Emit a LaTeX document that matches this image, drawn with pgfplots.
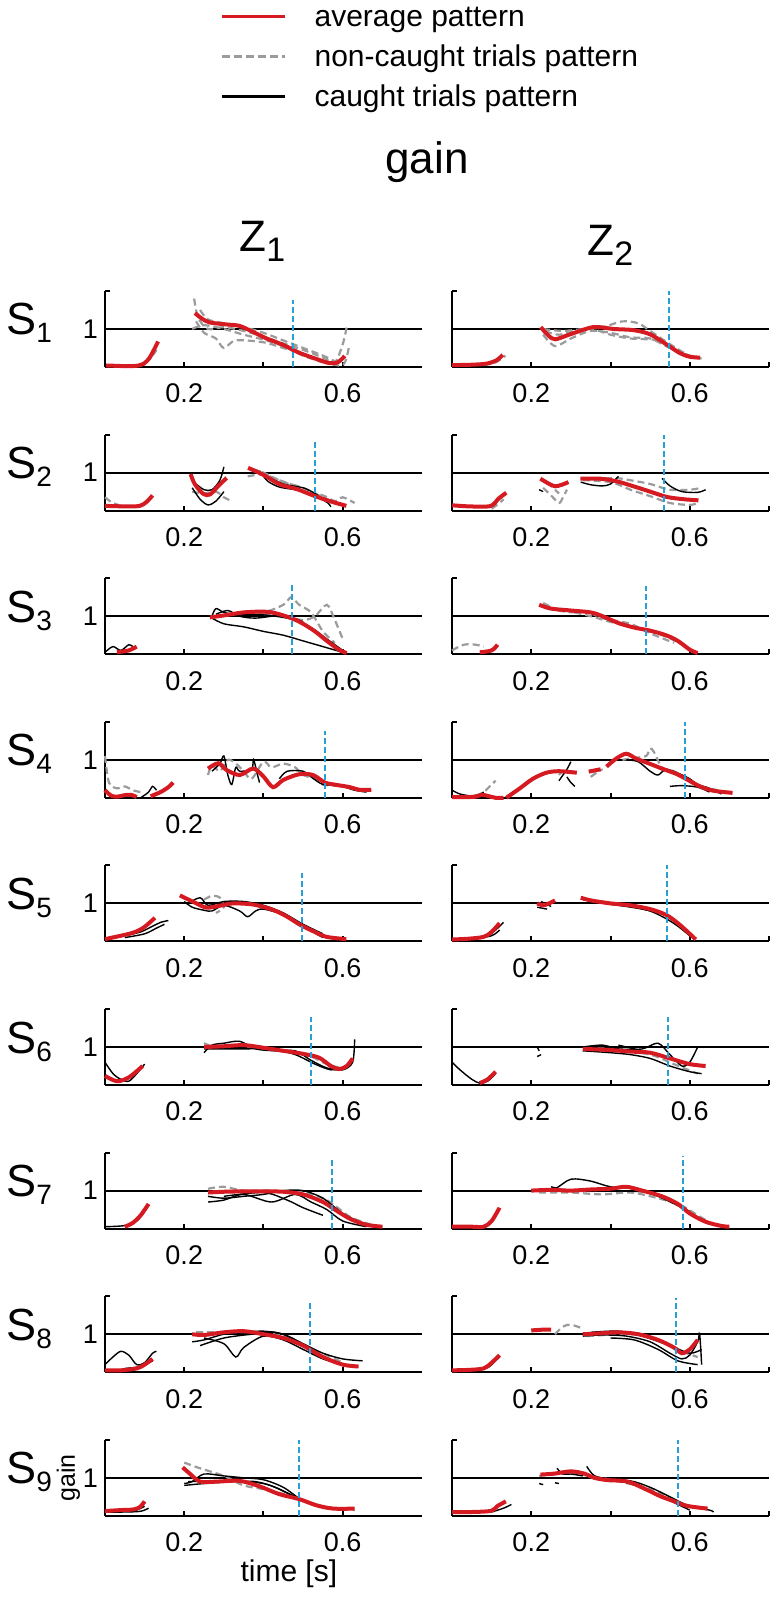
\documentclass[border=0pt]{standalone}
\usepackage{pgfplots}
\pgfplotsset{compat=1.18}
\usepackage{fontspec}
\setmainfont{Liberation Sans}
\definecolor{myred}{RGB}{214,26,33}
\definecolor{mygray}{RGB}{155,155,155}
\definecolor{myblue}{RGB}{40,160,215}
\pgfplotsset{
 panel/.style={scale only axis, width=158.5pt, height=38pt, xmin=0,xmax=0.8,ymin=0,ymax=2,
   axis lines=left, axis line style={line width=1pt,-}, tick style={line width=1pt,black},
   major tick length=2.5pt, tick align=inside, xtick={0.2,0.4,0.6}, xticklabels={0.2,,0.6},
   ytick={0,1,2}, yticklabels={,1,}, tick label style={font=\fontsize{13.5}{13.5}\selectfont},
   xticklabel style={yshift=-5pt}, /pgf/number format/assume math mode=true, clip=false, anchor=south west},
 rpanel/.style={panel, yticklabels={}, xtick={0.2,0.4,0.6,0.8}, xticklabels={0.2,,0.6,}},
 avg/.style={color=myred, line width=2pt, smooth, tension=0.5},
 nc/.style={color=mygray, line width=1.1pt, dash pattern=on 3.5pt off 2pt, smooth, tension=0.5},
 ct/.style={black, line width=0.7pt, smooth, tension=0.5},
 one/.style={black, line width=1pt},
 vt/.style={color=myblue, line width=1pt, dash pattern=on 3pt off 1.5pt},
}
\newcommand{\slab}[2]{\node[anchor=base west, inner sep=0pt] at (3pt,#1) {\fontsize{22.5}{22.5}\selectfont S\raisebox{-4pt}{\fontsize{14}{14}\selectfont #2}};}
\begin{document}
\begin{tikzpicture}
\path[use as bounding box] (0,0) rectangle (388pt,-799.5pt);
\node[anchor=base west, inner sep=0pt, font=\fontsize{22}{22}\selectfont] at (192.5pt,-87pt) {gain};
\node[anchor=base west, inner sep=0pt] at (119.5pt,-126pt) {\fontsize{22}{22}\selectfont Z\raisebox{-5pt}{\fontsize{17}{17}\selectfont 1}};
\node[anchor=base west, inner sep=0pt] at (293.5pt,-128pt) {\fontsize{22}{22}\selectfont Z\raisebox{-5pt}{\fontsize{17}{17}\selectfont 2}};
\slab{-167.5pt}{1}
\slab{-239.3pt}{2}
\slab{-311.1pt}{3}
\slab{-382.9pt}{4}
\slab{-454.7pt}{5}
\slab{-526.5pt}{6}
\slab{-598.3pt}{7}
\slab{-670.1pt}{8}
\slab{-741.9pt}{9}

% ---------- S1 ----------
\begin{axis}[panel, at={(52.5pt,-183.5pt)},
  legend style={at={(axis description cs:0.3628,4.8026)}, anchor=north west, draw=none, fill=none, inner sep=0pt,
    font=\fontsize{15}{15}\selectfont, row sep=3.5pt,
    nodes={inner sep=1pt, text height=11pt, text depth=3.5pt, anchor=base west},
    /tikz/every odd column/.append style={column sep=13pt}},
  legend cell align=left,
  legend image code/.code={\draw[#1] (0pt,5pt) -- (31.5pt,5pt);}]
\addlegendimage{color=myred, line width=1.6pt}
\addlegendentry{average pattern}
\addlegendimage{color=mygray, line width=1.6pt, dash pattern=on 4pt off 2pt}
\addlegendentry{non-caught trials pattern}
\addlegendimage{black, line width=1.6pt}
\addlegendentry{caught trials pattern}
\addplot[one] coordinates {(0,1)(0.8,1)};
\addplot[nc] coordinates {(0.075,0.02)(0.1,0.1)(0.12,0.3)(0.13,0.45)};
\addplot[nc] coordinates {(0.225,1.8)(0.235,1.3)(0.26,1.0)(0.3,1.05)(0.35,0.95)(0.4,0.8)(0.45,0.62)(0.5,0.45)(0.55,0.25)(0.58,0.12)(0.6,0.6)(0.61,1.05)};
\addplot[nc] coordinates {(0.23,1.2)(0.25,0.9)(0.28,0.75)(0.3,0.5)(0.33,0.7)(0.4,0.65)(0.45,0.5)(0.5,0.35)(0.55,0.15)(0.6,0.05)(0.615,0.5)};
\addplot[nc] coordinates {(0.24,1.5)(0.26,1.25)(0.3,1.15)(0.35,1.05)(0.4,0.9)(0.45,0.7)(0.5,0.5)(0.55,0.3)(0.58,0.15)};
\addplot[nc] coordinates {(0.22,1.0)(0.25,1.1)(0.3,1.0)(0.35,0.85)(0.4,0.72)(0.45,0.55)(0.5,0.3)(0.55,0.12)};
\addplot[avg] coordinates {(0.003,0.04)(0.03,0.03)(0.063,0.02)(0.085,0.04)(0.097,0.08)(0.113,0.25)(0.134,0.67)};
\addplot[avg] coordinates {(0.227,1.42)(0.245,1.27)(0.265,1.17)(0.307,1.12)(0.34,1.08)(0.374,0.92)(0.408,0.75)(0.45,0.58)(0.49,0.375)(0.534,0.21)(0.567,0.1)(0.588,0.125)(0.605,0.29)};
\addplot[vt] coordinates {(0.475,0)(0.475,1.75)};
\end{axis}
\begin{axis}[rpanel, at={(226pt,-183.5pt)}]
\addplot[one] coordinates {(0,1)(0.8,1)};
\addplot[nc] coordinates {(0.08,0.05)(0.11,0.12)(0.135,0.3)};
\addplot[nc] coordinates {(0.23,0.85)(0.26,0.55)(0.3,0.75)(0.35,0.95)(0.4,0.9)(0.45,0.78)(0.5,0.75)(0.55,0.5)(0.6,0.3)(0.63,0.22)};
\addplot[nc] coordinates {(0.235,0.95)(0.27,0.85)(0.33,1.0)(0.38,1.05)(0.43,1.2)(0.47,1.15)(0.5,0.95)(0.55,0.6)(0.6,0.28)};
\addplot[nc] coordinates {(0.23,1.0)(0.28,0.95)(0.35,1.0)(0.4,0.85)(0.45,0.75)(0.52,0.7)(0.56,0.45)(0.6,0.25)};
\addplot[avg] coordinates {(0,0.05)(0.05,0.06)(0.088,0.09)(0.113,0.18)(0.128,0.32)};
\addplot[avg] coordinates {(0.224,1.05)(0.244,0.82)(0.261,0.73)(0.298,0.86)(0.357,1.05)(0.408,1.0)(0.458,0.97)(0.5,0.86)(0.542,0.59)(0.576,0.36)(0.6,0.27)(0.626,0.245)};
\addplot[vt] coordinates {(0.548,0)(0.548,2)};
\end{axis}

% ---------- S2 ----------
\begin{axis}[panel, at={(52.5pt,-255.3pt)}]
\addplot[one] coordinates {(0,1)(0.8,1)};
\addplot[nc] coordinates {(0.0,0.35)(0.02,0.2)(0.05,0.1)};
\addplot[nc] coordinates {(0.22,0.5)(0.25,0.45)(0.28,0.5)(0.3,0.35)(0.32,0.25)};
\addplot[nc] coordinates {(0.36,0.9)(0.4,0.95)(0.44,0.8)(0.48,0.65)(0.5,0.5)(0.55,0.4)(0.58,0.25)(0.6,0.35)(0.63,0.2)};
\addplot[nc] coordinates {(0.37,1.1)(0.4,1.0)(0.45,0.75)(0.5,0.6)(0.56,0.3)(0.6,0.15)};
\addplot[ct] coordinates {(0.22,0.6)(0.24,0.3)(0.26,0.15)(0.28,0.25)(0.3,0.5)};
\addplot[ct] coordinates {(0.23,0.7)(0.25,0.55)(0.27,0.55)(0.29,0.8)(0.3,1.15)};
\addplot[ct] coordinates {(0.39,1.05)(0.41,0.78)(0.44,0.62)(0.48,0.55)(0.52,0.45)(0.56,0.22)(0.57,0.1)};
\addplot[ct] coordinates {(0.4,0.95)(0.45,0.7)(0.5,0.6)(0.53,0.45)(0.55,0.3)};
\addplot[avg] coordinates {(0,0.125)(0.055,0.11)(0.088,0.125)(0.105,0.23)(0.12,0.4)};
\addplot[avg] coordinates {(0.216,0.96)(0.227,0.69)(0.248,0.44)(0.265,0.425)(0.286,0.65)(0.307,0.86)};
\addplot[avg] coordinates {(0.361,1.125)(0.4,0.94)(0.441,0.69)(0.483,0.57)(0.525,0.4)(0.567,0.25)(0.609,0.125)};
\addplot[vt] coordinates {(0.529,0)(0.529,1.85)};
\end{axis}
\begin{axis}[rpanel, at={(226pt,-255.3pt)}]
\addplot[one] coordinates {(0,1)(0.8,1)};
\addplot[nc] coordinates {(0.1,0.05)(0.12,0.2)(0.13,0.3)};
\addplot[nc] coordinates {(0.23,0.6)(0.25,0.4)(0.27,0.2)(0.28,0.35)(0.29,0.55)};
\addplot[nc] coordinates {(0.24,0.75)(0.26,0.55)(0.27,0.45)};
\addplot[nc] coordinates {(0.33,0.85)(0.38,0.85)(0.42,0.85)(0.46,0.78)(0.5,0.7)(0.55,0.55)(0.6,0.55)(0.63,0.6)};
\addplot[nc] coordinates {(0.33,0.8)(0.4,0.75)(0.45,0.55)(0.5,0.38)(0.55,0.2)(0.6,0.15)(0.62,0.2)};
\addplot[ct] coordinates {(0.22,0.55)(0.23,0.5)};
\addplot[ct] coordinates {(0.325,0.75)(0.35,0.68)(0.38,0.65)(0.4,0.7)(0.42,0.9)};
\addplot[ct] coordinates {(0.53,0.85)(0.55,0.65)(0.58,0.5)(0.62,0.48)(0.64,0.55)};
\addplot[avg] coordinates {(0,0.14)(0.046,0.11)(0.097,0.12)(0.118,0.32)(0.137,0.47)};
\addplot[avg] coordinates {(0.223,0.84)(0.244,0.71)(0.26,0.64)(0.277,0.68)(0.294,0.75)};
\addplot[avg] coordinates {(0.324,0.84)(0.374,0.84)(0.416,0.77)(0.458,0.64)(0.5,0.5)(0.542,0.36)(0.584,0.3)(0.622,0.27)};
\addplot[vt] coordinates {(0.534,0)(0.534,2)};
\end{axis}

% ---------- S3 ----------
\begin{axis}[panel, at={(52.5pt,-327.1pt)}]
\addplot[one] coordinates {(0,1)(0.8,1)};
\addplot[ct] coordinates {(0.0,0.05)(0.02,0.2)(0.04,0.1)(0.06,0.25)(0.07,0.2)};
\addplot[nc] coordinates {(0.33,1.05)(0.4,1.1)(0.45,1.3)(0.47,1.5)(0.49,1.3)(0.52,1.1)(0.55,0.6)(0.58,0.3)};
\addplot[nc] coordinates {(0.4,1.05)(0.45,1.0)(0.5,0.9)(0.53,1.0)(0.56,1.3)(0.58,0.9)(0.6,0.4)};
\addplot[ct] coordinates {(0.27,1.0)(0.28,1.2)(0.3,1.1)(0.33,1.05)(0.38,1.05)(0.43,1.0)(0.48,0.9)(0.52,0.7)(0.56,0.4)(0.6,0.1)};
\addplot[ct] coordinates {(0.27,0.95)(0.3,0.8)(0.35,0.72)(0.4,0.6)(0.45,0.5)(0.5,0.35)(0.55,0.2)(0.6,0.05)};
\addplot[ct] coordinates {(0.28,1.05)(0.31,1.15)(0.34,1.0)(0.38,0.95)(0.45,1.02)(0.5,0.85)};
\addplot[avg] coordinates {(0.03,0.05)(0.06,0.1)(0.08,0.2)};
\addplot[avg] coordinates {(0.265,0.97)(0.3,1.02)(0.35,1.1)(0.4,1.12)(0.43,1.08)(0.47,0.95)(0.5,0.8)(0.53,0.6)(0.56,0.35)(0.59,0.12)(0.61,0.03)};
\addplot[vt] coordinates {(0.473,0)(0.473,1.85)};
\end{axis}
\begin{axis}[rpanel, at={(226pt,-327.1pt)}]
\addplot[one] coordinates {(0,1)(0.8,1)};
\addplot[nc] coordinates {(0.0,0.1)(0.03,0.25)(0.06,0.25)(0.08,0.2)};
\addplot[nc] coordinates {(0.23,1.35)(0.26,1.2)(0.3,1.12)(0.35,1.0)(0.4,0.85)(0.45,0.72)(0.5,0.6)(0.55,0.42)(0.6,0.15)};
\addplot[nc] coordinates {(0.24,1.2)(0.3,1.1)(0.34,1.12)(0.38,0.95)(0.45,0.8)(0.5,0.55)(0.56,0.3)};
\addplot[ct] coordinates {(0.37,1.02)(0.4,0.88)(0.44,0.75)(0.48,0.65)(0.52,0.55)(0.55,0.48)};
\addplot[avg] coordinates {(0.07,0.05)(0.1,0.1)(0.115,0.25)};
\addplot[avg] coordinates {(0.22,1.3)(0.25,1.2)(0.3,1.15)(0.35,1.1)(0.38,1.0)(0.42,0.82)(0.46,0.7)(0.5,0.62)(0.54,0.5)(0.57,0.35)(0.6,0.12)(0.62,0.03)};
\addplot[vt] coordinates {(0.49,0)(0.49,1.8)};
\end{axis}

% ---------- S4 ----------
\begin{axis}[panel, at={(52.5pt,-398.9pt)}]
\addplot[one] coordinates {(0,1)(0.8,1)};
\addplot[nc] coordinates {(0.0,1.1)(0.01,0.4)(0.03,0.25)(0.05,0.3)(0.07,0.2)(0.09,0.15)};
\addplot[ct] coordinates {(0.09,0.0)(0.11,0.15)(0.12,0.3)(0.13,0.2)};
\addplot[nc] coordinates {(0.26,0.6)(0.27,0.85)(0.29,0.7)(0.31,1.0)(0.33,0.9)(0.35,0.7)(0.37,0.5)(0.4,0.95)(0.42,0.8)(0.45,0.9)(0.48,0.8)(0.5,0.6)(0.53,0.5)(0.55,0.35)(0.6,0.3)(0.65,0.2)};
\addplot[ct] coordinates {(0.27,0.7)(0.29,0.9)(0.3,1.1)(0.31,0.6)(0.32,0.35)(0.33,0.8)(0.34,0.7)(0.37,0.75)(0.375,1.0)(0.385,0.6)(0.39,0.4)};
\addplot[ct] coordinates {(0.44,0.5)(0.46,0.7)(0.5,0.7)(0.52,0.55)(0.55,0.35)(0.58,0.35)(0.6,0.3)(0.63,0.2)(0.66,0.15)};
\addplot[avg] coordinates {(0.0,0.2)(0.015,0.06)(0.03,0.03)(0.05,0.07)(0.065,0.08)(0.08,0.02)};
\addplot[avg] coordinates {(0.115,0.04)(0.14,0.15)(0.16,0.28)(0.172,0.4)};
\addplot[avg] coordinates {(0.26,0.77)(0.286,0.91)(0.307,0.73)(0.34,0.6)(0.374,0.77)(0.4,0.56)(0.424,0.28)(0.45,0.47)(0.49,0.62)(0.525,0.6)(0.555,0.4)(0.584,0.34)(0.618,0.28)(0.643,0.21)(0.672,0.21)};
\addplot[vt] coordinates {(0.555,0)(0.555,1.75)};
\end{axis}
\begin{axis}[rpanel, at={(226pt,-398.9pt)}]
\addplot[one] coordinates {(0,1)(0.8,1)};
\addplot[ct] coordinates {(0.0,0.2)(0.02,0.1)(0.05,0.05)(0.07,0.1)(0.08,0.15)};
\addplot[nc] coordinates {(0.06,0.05)(0.08,0.15)(0.1,0.35)(0.11,0.45)};
\addplot[ct] coordinates {(0.27,0.45)(0.28,0.6)(0.29,0.75)(0.3,0.95)};
\addplot[ct] coordinates {(0.29,0.55)(0.3,0.4)(0.31,0.3)};
\addplot[nc] coordinates {(0.27,0.6)(0.28,0.7)(0.3,0.65)};
\addplot[nc] coordinates {(0.35,0.55)(0.37,0.7)(0.38,0.75)};
\addplot[nc] coordinates {(0.43,1.0)(0.46,1.05)(0.49,1.1)(0.5,1.3)(0.51,1.2)(0.53,0.8)(0.56,0.7)(0.6,0.45)(0.63,0.3)(0.67,0.2)};
\addplot[ct] coordinates {(0.44,1.0)(0.47,0.95)(0.5,0.7)(0.52,0.6)(0.54,0.75)(0.57,0.65)(0.6,0.5)(0.62,0.35)(0.65,0.25)(0.68,0.1)};
\addplot[ct] coordinates {(0.55,0.3)(0.58,0.32)(0.62,0.28)(0.65,0.15)};
\addplot[avg] coordinates {(0.0,0.02)(0.04,0.02)(0.06,0.03)(0.075,0.08)(0.09,0.05)(0.11,0.0)(0.13,0.0)};
\addplot[avg] coordinates {(0.137,0)(0.17,0.24)(0.204,0.5)(0.238,0.66)(0.27,0.7)(0.315,0.66)};
\addplot[avg] coordinates {(0.345,0.69)(0.375,0.75)};
\addplot[avg] coordinates {(0.39,0.82)(0.414,1.03)(0.44,1.16)(0.465,1.03)(0.498,0.9)(0.532,0.76)(0.566,0.63)(0.59,0.5)(0.624,0.31)(0.658,0.19)(0.708,0.13)};
\addplot[vt] coordinates {(0.587,0)(0.587,2)};
\end{axis}

% ---------- S5 ----------
\begin{axis}[panel, at={(52.5pt,-470.7pt)}]
\addplot[one] coordinates {(0,1)(0.8,1)};
\addplot[ct] coordinates {(0.0,0.05)(0.05,0.15)(0.09,0.25)(0.12,0.4)(0.14,0.5)(0.16,0.55)};
\addplot[ct] coordinates {(0.05,0.1)(0.1,0.2)(0.13,0.35)(0.15,0.45)};
\addplot[nc] coordinates {(0.25,1.1)(0.27,1.2)(0.29,1.15)(0.3,0.9)(0.28,0.75)};
\addplot[ct] coordinates {(0.2,1.05)(0.22,0.9)(0.25,0.82)(0.27,0.8)(0.3,0.95)(0.34,0.8)(0.36,0.65)(0.38,0.8)(0.4,0.85)(0.45,0.7)(0.5,0.4)(0.55,0.1)};
\addplot[ct] coordinates {(0.21,1.0)(0.24,1.15)(0.26,0.95)(0.3,1.05)(0.35,1.05)(0.4,0.95)(0.45,0.75)(0.5,0.45)(0.55,0.2)};
\addplot[avg] coordinates {(0,0.06)(0.038,0.145)(0.071,0.23)(0.097,0.36)(0.126,0.62)};
\addplot[avg] coordinates {(0.189,1.21)(0.223,1.04)(0.256,0.89)(0.29,0.94)(0.323,1.0)(0.374,0.97)(0.424,0.83)(0.458,0.66)(0.492,0.44)(0.525,0.27)(0.559,0.12)(0.609,0.06)};
\addplot[vt] coordinates {(0.496,0)(0.496,1.8)};
\end{axis}
\begin{axis}[rpanel, at={(226pt,-470.7pt)}]
\addplot[one] coordinates {(0,1)(0.8,1)};
\addplot[ct] coordinates {(0.02,0.05)(0.06,0.08)(0.09,0.15)(0.11,0.3)(0.13,0.5)};
\addplot[ct] coordinates {(0.05,0.05)(0.1,0.15)(0.12,0.3)};
\addplot[ct] coordinates {(0.215,0.9)(0.24,0.85)};
\addplot[ct] coordinates {(0.225,1.05)(0.25,0.92)};
\addplot[ct] coordinates {(0.33,1.1)(0.4,0.98)(0.45,0.92)(0.5,0.8)(0.54,0.6)(0.57,0.4)(0.6,0.15)};
\addplot[ct] coordinates {(0.35,1.05)(0.42,0.95)(0.48,0.85)(0.53,0.72)(0.57,0.5)(0.6,0.2)};
\addplot[avg] coordinates {(0.0,0.05)(0.04,0.07)(0.08,0.12)(0.1,0.25)(0.12,0.48)};
\addplot[avg] coordinates {(0.215,1.0)(0.23,0.95)(0.245,1.0)(0.26,1.08)};
\addplot[avg] coordinates {(0.325,1.15)(0.35,1.08)(0.4,1.0)(0.45,0.95)(0.5,0.85)(0.54,0.7)(0.57,0.48)(0.6,0.2)(0.615,0.05)};
\addplot[vt] coordinates {(0.543,0)(0.543,2)};
\end{axis}

% ---------- S6 ----------
\begin{axis}[panel, at={(52.5pt,-542.5pt)}]
\addplot[one] coordinates {(0,1)(0.8,1)};
\addplot[ct] coordinates {(0.0,0.6)(0.02,0.3)(0.04,0.15)(0.06,0.1)(0.08,0.3)(0.1,0.55)};
\addplot[nc] coordinates {(0.25,1.1)(0.28,1.0)(0.33,1.05)(0.4,0.95)(0.47,0.85)(0.52,0.75)(0.56,0.55)(0.6,0.45)(0.62,0.6)};
\addplot[ct] coordinates {(0.25,0.85)(0.27,1.05)(0.3,1.1)(0.34,1.15)(0.38,0.95)(0.43,0.9)(0.48,0.9)(0.52,0.65)(0.56,0.45)(0.6,0.4)(0.625,0.6)(0.63,1.2)};
\addplot[ct] coordinates {(0.25,0.95)(0.3,0.95)(0.35,0.95)(0.42,0.95)(0.48,0.8)(0.53,0.55)(0.57,0.4)(0.6,0.45)};
\addplot[avg] coordinates {(0.0,0.24)(0.03,0.1)(0.06,0.2)(0.095,0.5)};
\addplot[avg] coordinates {(0.25,1.0)(0.3,1.02)(0.35,1.05)(0.4,0.98)(0.45,0.9)(0.5,0.82)(0.54,0.72)(0.57,0.5)(0.59,0.42)(0.61,0.5)(0.625,0.7)};
\addplot[vt] coordinates {(0.52,0)(0.52,1.8)};
\end{axis}
\begin{axis}[rpanel, at={(226pt,-542.5pt)}]
\addplot[one] coordinates {(0,1)(0.8,1)};
\addplot[ct] coordinates {(0.0,0.6)(0.02,0.4)(0.05,0.15)(0.07,0.05)(0.09,0.1)(0.11,0.3)};
\addplot[ct] coordinates {(0.215,1.0)(0.22,0.9)};
\addplot[ct] coordinates {(0.215,0.75)(0.225,0.8)};
\addplot[nc] coordinates {(0.34,0.95)(0.4,0.95)(0.5,0.8)(0.56,0.55)(0.62,0.3)};
\addplot[ct] coordinates {(0.33,1.0)(0.38,1.05)(0.42,0.95)(0.48,0.95)(0.52,1.1)(0.55,0.8)(0.58,0.5)(0.6,0.6)(0.62,1.0)};
\addplot[ct] coordinates {(0.33,0.9)(0.4,0.85)(0.45,0.8)(0.5,0.7)(0.55,0.5)(0.6,0.35)(0.63,0.3)};
\addplot[ct] coordinates {(0.42,1.05)(0.46,0.95)(0.52,0.8)};
\addplot[avg] coordinates {(0.07,0.05)(0.09,0.15)(0.11,0.35)};
\addplot[avg] coordinates {(0.33,0.95)(0.4,0.92)(0.45,0.88)(0.5,0.85)(0.55,0.7)(0.6,0.55)(0.64,0.5)};
\addplot[vt] coordinates {(0.545,0)(0.545,1.8)};
\end{axis}

% ---------- S7 ----------
\begin{axis}[panel, at={(52.5pt,-614.3pt)}]
\addplot[one] coordinates {(0,1)(0.8,1)};
\addplot[ct] coordinates {(0.0,0.05)(0.05,0.08)(0.08,0.2)(0.1,0.45)};
\addplot[nc] coordinates {(0.26,1.05)(0.3,1.1)(0.35,1.0)(0.42,1.0)(0.5,0.95)(0.56,0.75)(0.62,0.3)(0.68,0.08)};
\addplot[ct] coordinates {(0.26,0.85)(0.3,0.8)(0.35,0.85)(0.4,0.9)(0.45,1.0)(0.5,1.0)(0.55,0.8)(0.6,0.4)(0.65,0.15)(0.7,0.05)};
\addplot[ct] coordinates {(0.26,0.7)(0.3,0.75)(0.35,0.9)(0.42,0.7)(0.48,0.9)(0.52,0.7)(0.56,0.5)(0.6,0.2)(0.66,0.05)};
\addplot[ct] coordinates {(0.3,0.85)(0.4,0.95)(0.46,0.75)(0.5,0.55)(0.55,0.35)};
\addplot[avg] coordinates {(0.05,0.05)(0.07,0.15)(0.09,0.35)(0.11,0.65)};
\addplot[avg] coordinates {(0.26,0.95)(0.3,0.97)(0.35,0.98)(0.4,0.98)(0.45,0.97)(0.5,0.9)(0.55,0.7)(0.58,0.5)(0.62,0.25)(0.66,0.1)(0.7,0.05)};
\addplot[vt] coordinates {(0.574,0)(0.574,1.85)};
\end{axis}
\begin{axis}[rpanel, at={(226pt,-614.3pt)}]
\addplot[one] coordinates {(0,1)(0.8,1)};
\addplot[nc] coordinates {(0.22,0.95)(0.3,0.95)(0.38,0.9)(0.45,0.95)(0.52,0.8)(0.58,0.6)(0.62,0.35)(0.66,0.1)};
\addplot[ct] coordinates {(0.22,1.0)(0.26,1.05)(0.3,1.3)(0.35,1.25)(0.4,1.1)(0.46,1.05)(0.52,0.85)(0.58,0.55)(0.62,0.3)(0.66,0.12)};
\addplot[ct] coordinates {(0.25,1.1)(0.3,1.0)(0.4,1.0)(0.5,0.95)(0.55,0.75)(0.6,0.45)};
\addplot[avg] coordinates {(0.0,0.05)(0.05,0.05)(0.08,0.05)(0.1,0.2)(0.12,0.55)};
\addplot[avg] coordinates {(0.2,1.0)(0.25,1.02)(0.3,1.0)(0.35,1.03)(0.4,1.05)(0.44,1.1)(0.48,1.0)(0.53,0.85)(0.57,0.65)(0.6,0.4)(0.64,0.18)(0.68,0.07)(0.7,0.05)};
\addplot[vt] coordinates {(0.584,0)(0.584,1.9)};
\end{axis}

% ---------- S8 ----------
\begin{axis}[panel, at={(52.5pt,-686.1pt)}]
\addplot[one] coordinates {(0,1)(0.8,1)};
\addplot[ct] coordinates {(0.0,0.2)(0.02,0.4)(0.04,0.55)(0.06,0.45)(0.08,0.2)(0.1,0.25)(0.12,0.5)(0.13,0.55)};
\addplot[ct] coordinates {(0.05,0.1)(0.09,0.15)(0.12,0.3)};
\addplot[nc] coordinates {(0.23,1.05)(0.3,1.05)(0.38,1.05)(0.45,0.95)(0.5,0.7)(0.56,0.45)(0.6,0.25)};
\addplot[ct] coordinates {(0.22,0.8)(0.25,0.85)(0.3,1.0)(0.35,1.05)(0.4,1.08)(0.45,1.0)(0.5,0.75)(0.55,0.5)(0.6,0.35)(0.65,0.3)};
\addplot[ct] coordinates {(0.25,0.9)(0.3,0.75)(0.33,0.4)(0.35,0.65)(0.4,0.95)(0.45,0.85)(0.5,0.6)(0.55,0.35)(0.6,0.2)};
\addplot[ct] coordinates {(0.24,0.7)(0.3,0.9)(0.37,1.0)(0.43,1.05)(0.48,0.85)(0.53,0.5)};
\addplot[avg] coordinates {(0.0,0.05)(0.04,0.05)(0.08,0.1)(0.1,0.2)(0.12,0.35)};
\addplot[avg] coordinates {(0.22,1.0)(0.25,0.98)(0.3,1.05)(0.35,1.08)(0.4,1.0)(0.45,0.9)(0.5,0.7)(0.55,0.4)(0.6,0.2)(0.64,0.15)};
\addplot[vt] coordinates {(0.517,0)(0.517,1.85)};
\end{axis}
\begin{axis}[rpanel, at={(226pt,-686.1pt)}]
\addplot[one] coordinates {(0,1)(0.8,1)};
\addplot[ct] coordinates {(0.02,0.05)(0.06,0.06)(0.09,0.12)(0.11,0.3)(0.12,0.4)};
\addplot[nc] coordinates {(0.26,1.0)(0.28,1.2)(0.3,1.25)(0.33,1.15)};
\addplot[nc] coordinates {(0.34,0.95)(0.45,1.0)(0.52,0.85)(0.58,0.55)(0.62,0.4)};
\addplot[ct] coordinates {(0.33,0.95)(0.38,0.98)(0.44,0.95)(0.5,0.8)(0.55,0.5)(0.58,0.35)(0.6,0.45)(0.62,0.8)(0.625,1.0)(0.63,0.2)};
\addplot[ct] coordinates {(0.35,1.05)(0.42,1.08)(0.48,0.95)(0.55,0.7)(0.6,0.5)(0.63,0.6)};
\addplot[ct] coordinates {(0.4,0.9)(0.46,0.85)(0.52,0.6)(0.57,0.3)(0.62,0.2)};
\addplot[avg] coordinates {(0.0,0.05)(0.04,0.06)(0.08,0.1)(0.1,0.25)(0.12,0.45)};
\addplot[avg] coordinates {(0.2,1.1)(0.23,1.12)(0.25,1.12)};
\addplot[avg] coordinates {(0.33,1.0)(0.37,1.02)(0.42,1.05)(0.47,1.0)(0.52,0.85)(0.56,0.65)(0.58,0.5)(0.6,0.6)(0.62,0.85)};
\addplot[vt] coordinates {(0.566,0)(0.566,1.95)};
\end{axis}

% ---------- S9 ----------
\begin{axis}[panel, at={(52.5pt,-757.9pt)},
  xlabel={time [s]}, xlabel style={font=\fontsize{15}{15}\selectfont, anchor=base, at={(axis description cs:0.58,-0.868)}},
  ylabel={gain}, ylabel style={font=\fontsize{12.5}{12.5}\selectfont, anchor=base, at={(axis description cs:-0.095,0.5)}}]
\addplot[one] coordinates {(0,1)(0.8,1)};
\addplot[ct] coordinates {(0.0,0.1)(0.05,0.1)(0.09,0.12)(0.11,0.2)};
\addplot[ct] coordinates {(0.03,0.15)(0.07,0.12)(0.1,0.25)};
\addplot[nc] coordinates {(0.2,1.4)(0.24,1.25)(0.3,1.05)(0.35,0.8)(0.4,0.7)(0.46,0.55)(0.5,0.4)(0.56,0.22)(0.63,0.15)};
\addplot[ct] coordinates {(0.2,0.85)(0.22,0.9)(0.25,1.1)(0.3,1.05)(0.35,1.0)(0.4,0.95)(0.45,0.75)(0.49,0.45)};
\addplot[ct] coordinates {(0.2,0.8)(0.25,0.85)(0.32,0.9)(0.38,0.9)(0.43,0.75)(0.48,0.5)(0.53,0.3)(0.58,0.2)};
\addplot[ct] coordinates {(0.21,0.9)(0.3,0.92)(0.4,0.85)(0.46,0.6)(0.5,0.4)};
\addplot[avg] coordinates {(0,0.125)(0.038,0.15)(0.071,0.167)(0.088,0.23)(0.1,0.38)};
\addplot[avg] coordinates {(0.196,1.275)(0.214,1.11)(0.24,0.9)(0.282,0.9)(0.34,0.92)(0.39,0.775)(0.44,0.57)(0.49,0.44)(0.534,0.275)(0.576,0.19)(0.63,0.19)};
\addplot[vt] coordinates {(0.49,0)(0.49,2)};
\end{axis}
\begin{axis}[rpanel, at={(226pt,-757.9pt)}]
\addplot[one] coordinates {(0,1)(0.8,1)};
\addplot[ct] coordinates {(0.1,0.1)(0.13,0.2)(0.15,0.3)};
\addplot[nc] coordinates {(0.22,1.05)(0.3,1.12)(0.4,0.95)(0.5,0.7)(0.56,0.4)(0.62,0.2)};
\addplot[ct] coordinates {(0.22,0.85)(0.23,0.82)};
\addplot[ct] coordinates {(0.26,0.87)(0.27,0.85)};
\addplot[ct] coordinates {(0.265,1.25)(0.28,1.1)(0.3,1.1)(0.33,1.05)};
\addplot[ct] coordinates {(0.34,1.3)(0.36,1.05)(0.4,0.95)(0.45,0.85)(0.5,0.65)(0.55,0.4)(0.6,0.15)};
\addplot[ct] coordinates {(0.38,0.95)(0.45,0.92)(0.5,0.75)(0.55,0.5)(0.6,0.25)(0.65,0.15)(0.66,0.1)};
\addplot[avg] coordinates {(0,0.1)(0.048,0.1)(0.098,0.13)(0.115,0.26)(0.136,0.38)};
\addplot[avg] coordinates {(0.223,1.085)(0.258,1.11)(0.3,1.17)(0.334,1.11)(0.359,1.0)(0.392,0.94)(0.443,0.9)(0.493,0.68)(0.527,0.51)(0.56,0.385)(0.594,0.26)(0.645,0.19)};
\addplot[vt] coordinates {(0.571,0)(0.571,2)};
\end{axis}
\end{tikzpicture}
\end{document}
